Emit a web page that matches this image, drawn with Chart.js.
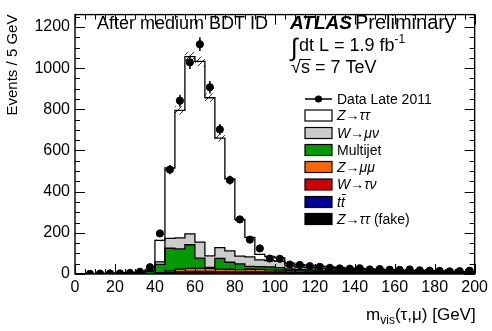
<!DOCTYPE html>
<html>
<head>
<meta charset="utf-8">
<script src="https://cdn.jsdelivr.net/npm/chart.js@4.4.0/dist/chart.umd.min.js"></script>
<style>
  html, body { margin: 0; padding: 0; background: #fff; }
</style>
</head>
<body>
<canvas id="c" width="492" height="331"></canvas>
<script>
// bin centres, 5 GeV bins from 0 to 200
const binCentres = [2.5, 7.5, 12.5, 17.5, 22.5, 27.5, 32.5, 37.5, 42.5, 47.5,
  52.5, 57.5, 62.5, 67.5, 72.5, 77.5, 82.5, 87.5, 92.5, 97.5,
  102.5, 107.5, 112.5, 117.5, 122.5, 127.5, 132.5, 137.5, 142.5, 147.5,
  152.5, 157.5, 162.5, 167.5, 172.5, 177.5, 182.5, 187.5, 192.5, 197.5];

// stack components, bottom to top
const zttFake  = [0,0,0,0,0,0,0,1,2,3, 4,4,4,4,3,3,3,3,3,3, 3,2,2,2,2,2,2,1,1,1, 1,1,1,1,1,1,1,1,1,1];
const ttbar    = [0,0,0,0,0,0,0,0,0,1, 1,1,1,1,1,1,1,2,2,2, 2,2,2,2,2,2,2,2,2,2, 2,1,1,1,1,1,1,1,1,1];
const wtaunu   = [0,0,0,0,0,0,0,1,2,4, 7,8,8,8,7,7,6,6,6,5, 5,5,4,4,4,4,3,3,3,3, 3,3,2,2,2,2,2,2,2,2];
const zmumu    = [0,0,0,0,0,0,1,1,3,7, 12,14,14,14,13,12,11,12,11,10, 9,8,7,6,5,5,5,4,4,4, 3,3,3,3,3,3,3,2,2,2];
const multijet = [0,1,1,2,2,3,5,10,40,110, 98,115,50,5,52,34,28,14,14,14, 12,8,7,6,6,6,6,6,5,5, 5,5,4,4,4,4,3,3,3,3];
const wmunu    = [0,0,0,0,1,1,1,2,12,48, 53,53,78,56,52,55,38,46,33,31, 30,14,12,11,10,9,8,7,7,6, 6,5,5,5,4,4,4,4,3,3];
const ztautau  = [0,1,2,2,2,2,3,5,104,342, 620,861,878,768,532,350,178,95,26,20, 17,14,11,11,9,7,6,6,5,4, 3,3,3,2,2,1,1,1,1,0];

// systematic band half width on the total
const bandErr  = [0,0,0,0,0,0,0,1,4,13, 20,24,24,21,16,11,7,4,3,3, 2,2,2,2,2,2,1,1,1,1, 1,1,1,1,1,1,1,1,1,1];

// data (Late 2011)
const dataCounts = [null,1,2,3,3,5,11,33,197,507, 842,1028,1116,907,702,456,265,167,124,75,
  74,46,44,38,35,30,27,26,28,22, 24,21,20,22,18,16,15,13,14,16];
const dataErr = [0,1,1.4,1.7,1.7,2.2,3.3,5.7,14,22.5, 29,32,33.4,30,26.5,21.4,16.3,12.9,11.1,8.7,
  8.6,6.8,6.6,6.2,5.9,5.5,5.2,5.1,5.3,4.7, 4.9,4.6,4.5,4.7,4.2,4,3.9,3.6,3.7,4];

const xTicks = [0, 20, 40, 60, 80, 100, 120, 140, 160, 180, 200];
const yTicks = [0, 200, 400, 600, 800, 1000, 1200];

const components = [
  { label: 'Z\u2192\u03c4\u03c4 (fake)', values: zttFake, color: '#000000', italic: 'Z\u2192\u03c4\u03c4', rest: ' (fake)' },
  { label: 't\u0305t', values: ttbar, color: '#000099', italic: 'tt', bar: true },
  { label: 'W\u2192\u03c4\u03bd', values: wtaunu, color: '#cc0000', italic: 'W\u2192\u03c4\u03bd' },
  { label: 'Z\u2192\u03bc\u03bc', values: zmumu, color: '#ff6600', italic: 'Z\u2192\u03bc\u03bc' },
  { label: 'Multijet', values: multijet, color: '#009900' },
  { label: 'W\u2192\u03bc\u03bd', values: wmunu, color: '#cccccc', italic: 'W\u2192\u03bc\u03bd' },
  { label: 'Z\u2192\u03c4\u03c4', values: ztautau, color: '#ffffff', italic: 'Z\u2192\u03c4\u03c4' }
];

const FONT = "'Liberation Sans', Arial, Helvetica, sans-serif";

// running sums for the stack outline
const running = binCentres.map(() => 0);
const stackSets = components.map((comp, k) => {
  const pts = comp.values.map((v, i) => {
    running[i] += v;
    return { x: binCentres[i], y: running[i] };
  });
  pts.unshift({ x: 0, y: pts[0].y });
  pts.push({ x: 200, y: pts[pts.length - 1].y });
  return {
    label: comp.label,
    data: pts,
    stepped: 'middle',
    borderColor: '#000',
    borderWidth: 1.3,
    backgroundColor: comp.color,
    fill: k === 0 ? 'origin' : '-1',
    pointRadius: 0,
    order: 2
  };
});
const total = running.slice();

function bandPoints(sign) {
  const pts = binCentres.map((c, i) => ({ x: c, y: Math.max(0, total[i] + sign * bandErr[i]) }));
  pts.unshift({ x: 0, y: pts[0].y });
  pts.push({ x: 200, y: pts[pts.length - 1].y });
  return pts;
}

function hatchPattern() {
  const p = document.createElement('canvas');
  p.width = 6; p.height = 6;
  const g = p.getContext('2d');
  g.strokeStyle = '#000';
  g.lineWidth = 0.8;
  g.beginPath();
  g.moveTo(-1, 7); g.lineTo(7, -1);
  g.stroke();
  return g.createPattern(p, 'repeat');
}

const dataSet = {
  label: 'Data Late 2011',
  data: binCentres.map((c, i) => ({ x: c, y: dataCounts[i] })),
  showLine: false,
  pointRadius: 3.6,
  pointHoverRadius: 3.6,
  pointBackgroundColor: '#000',
  pointBorderColor: '#000',
  fill: false,
  order: 0
};

const datasets = [
  { label: 'bandLo', data: bandPoints(-1), stepped: 'middle', borderWidth: 0, pointRadius: 0, fill: false, order: 1 },
  { label: 'bandHi', data: bandPoints(1), stepped: 'middle', borderWidth: 0, pointRadius: 0, fill: '-1', backgroundColor: hatchPattern(), order: 1 },
  ...stackSets,
  dataSet
];

const errorBars = {
  id: 'errorBars',
  afterDatasetsDraw(chart) {
    const { ctx, scales: { x, y } } = chart;
    ctx.save();
    ctx.strokeStyle = '#000';
    ctx.lineWidth = 1.5;
    dataCounts.forEach((v, i) => {
      if (v == null) return;
      const px = x.getPixelForValue(binCentres[i]);
      ctx.beginPath();
      ctx.moveTo(px, y.getPixelForValue(Math.max(0, v - dataErr[i])));
      ctx.lineTo(px, y.getPixelForValue(v + dataErr[i]));
      ctx.stroke();
    });
    ctx.restore();
  }
};

function drawText(ctx, parts, x, y) {
  // parts: [text, font, dy]
  let cx = x;
  parts.forEach(([t, f, dy]) => {
    ctx.font = f;
    ctx.fillText(t, cx, y + (dy || 0));
    cx += ctx.measureText(t).width;
  });
  return cx;
}

const decorations = {
  id: 'decorations',
  afterDraw(chart) {
    const { ctx, chartArea: a, scales: { x, y } } = chart;
    ctx.save();
    ctx.strokeStyle = '#000';
    ctx.fillStyle = '#000';

    // frame
    ctx.lineWidth = 1.4;
    ctx.strokeRect(a.left, a.top, a.right - a.left, a.bottom - a.top);

    // inward ticks
    ctx.lineWidth = 1;
    ctx.beginPath();
    for (let v = 0; v <= 200; v += 5) {
      const px = Math.round(x.getPixelForValue(v)) + 0.5;
      const len = v % 20 === 0 ? 10 : 5;
      ctx.moveTo(px, a.bottom); ctx.lineTo(px, a.bottom - len);
      ctx.moveTo(px, a.top); ctx.lineTo(px, a.top + len);
    }
    for (let v = 0; v <= 1250; v += 50) {
      const py = Math.round(y.getPixelForValue(v)) + 0.5;
      const len = v % 200 === 0 ? 10 : 5;
      ctx.moveTo(a.left, py); ctx.lineTo(a.left + len, py);
      ctx.moveTo(a.right, py); ctx.lineTo(a.right - len, py);
    }
    ctx.stroke();

    // axis titles
    ctx.textBaseline = 'alphabetic';
    ctx.save();
    ctx.translate(17, a.top);
    ctx.rotate(-Math.PI / 2);
    ctx.textAlign = 'right';
    ctx.font = '15px ' + FONT;
    ctx.fillText('Events / 5 GeV', 0, 0);
    ctx.restore();

    ctx.textAlign = 'left';
    const xt = [['m', '17px ' + FONT, 0], ['vis', '12px ' + FONT, 4], ['(\u03c4,\u03bc) [GeV]', '17px ' + FONT, 0]];
    let w = 0;
    xt.forEach(([t, f]) => { ctx.font = f; w += ctx.measureText(t).width; });
    drawText(ctx, xt, a.right + 1 - w, 320);

    // labels
    ctx.font = '18px ' + FONT;
    ctx.fillText('After medium BDT ID', 97, 29);
    let cx = drawText(ctx, [['ATLAS', 'italic bold 19px ' + FONT, 0]], 290, 29);
    drawText(ctx, [['Preliminary', '20px ' + FONT, 0]], cx + 3, 29);

    ctx.font = '25px ' + FONT;
    ctx.fillText('\u222b', 291, 56);
    cx = drawText(ctx, [['dt L = 1.9 fb', '18px ' + FONT, 0]], 299, 51);
    drawText(ctx, [['-1', '12px ' + FONT, -8]], cx, 51);

    ctx.font = '18px ' + FONT;
    ctx.fillText('\u221a', 291, 73);
    const sx = 291 + ctx.measureText('\u221a').width;
    ctx.fillText('s = 7 TeV', sx, 73);
    ctx.lineWidth = 1;
    ctx.beginPath();
    ctx.moveTo(sx - 1, 59.5); ctx.lineTo(sx + ctx.measureText('s').width + 1, 59.5);
    ctx.stroke();

    // legend
    const bx = 305, bw = 27, bh = 11, tx = 337;
    const rowY = [99, 115.5, 133, 150, 167, 184.5, 202, 219];
    ctx.lineWidth = 1.5;
    ctx.beginPath();
    ctx.moveTo(bx, rowY[0]); ctx.lineTo(bx + bw, rowY[0]);
    ctx.stroke();
    ctx.beginPath();
    ctx.arc(bx + bw / 2, rowY[0], 3.6, 0, Math.PI * 2);
    ctx.fill();
    ctx.font = '14px ' + FONT;
    ctx.textBaseline = 'middle';
    ctx.fillText('Data Late 2011', tx, rowY[0] + 1);

    const order = components.slice().reverse();
    order.forEach((comp, j) => {
      const ry = rowY[j + 1];
      ctx.fillStyle = comp.color;
      ctx.fillRect(bx, ry - bh / 2, bw, bh);
      ctx.strokeStyle = '#000';
      ctx.lineWidth = 1.2;
      ctx.strokeRect(bx, ry - bh / 2, bw, bh);
      ctx.fillStyle = '#000';
      if (comp.italic) {
        const end = drawText(ctx, [[comp.italic, 'italic 14px ' + FONT, 1]], tx, ry);
        if (comp.bar) {
          ctx.font = 'italic 14px ' + FONT;
          const tw = ctx.measureText('t').width;
          ctx.lineWidth = 1;
          ctx.beginPath();
          ctx.moveTo(tx + tw + 1, ry - 7.5); ctx.lineTo(tx + 2 * tw + 1, ry - 7.5);
          ctx.stroke();
        }
        if (comp.rest) drawText(ctx, [[comp.rest, '14px ' + FONT, 1]], end, ry);
      } else {
        drawText(ctx, [[comp.label, '14px ' + FONT, 1]], tx, ry);
      }
    });
    ctx.restore();
  }
};

new Chart(document.getElementById('c'), {
  type: 'line',
  data: { datasets },
  options: {
    responsive: false,
    animation: false,
    events: [],
    layout: { padding: { left: 0, right: 15, top: 5, bottom: 0 } },
    plugins: {
      legend: { display: false },
      tooltip: { enabled: false },
      filler: { drawTime: 'beforeDatasetsDraw', propagate: false }
    },
    scales: {
      x: {
        type: 'linear',
        min: 0, max: 200,
        grid: { display: false, drawTicks: false },
        border: { display: false },
        afterFit: s => { s.height = 57; },
        afterBuildTicks: s => { s.ticks = xTicks.map(v => ({ value: v })); },
        ticks: { color: '#000', padding: 4, maxRotation: 0, callback: v => String(v), font: { size: 16, family: FONT } }
      },
      y: {
        type: 'linear',
        min: 0, max: 1260,
        grid: { display: false, drawTicks: false },
        border: { display: false },
        afterFit: s => { s.width = 75; },
        afterBuildTicks: s => { s.ticks = yTicks.map(v => ({ value: v })); },
        ticks: { color: '#000', padding: 5, callback: v => String(v), font: { size: 16, family: FONT } }
      }
    }
  },
  plugins: [errorBars, decorations]
});
</script>
</body>
</html>
